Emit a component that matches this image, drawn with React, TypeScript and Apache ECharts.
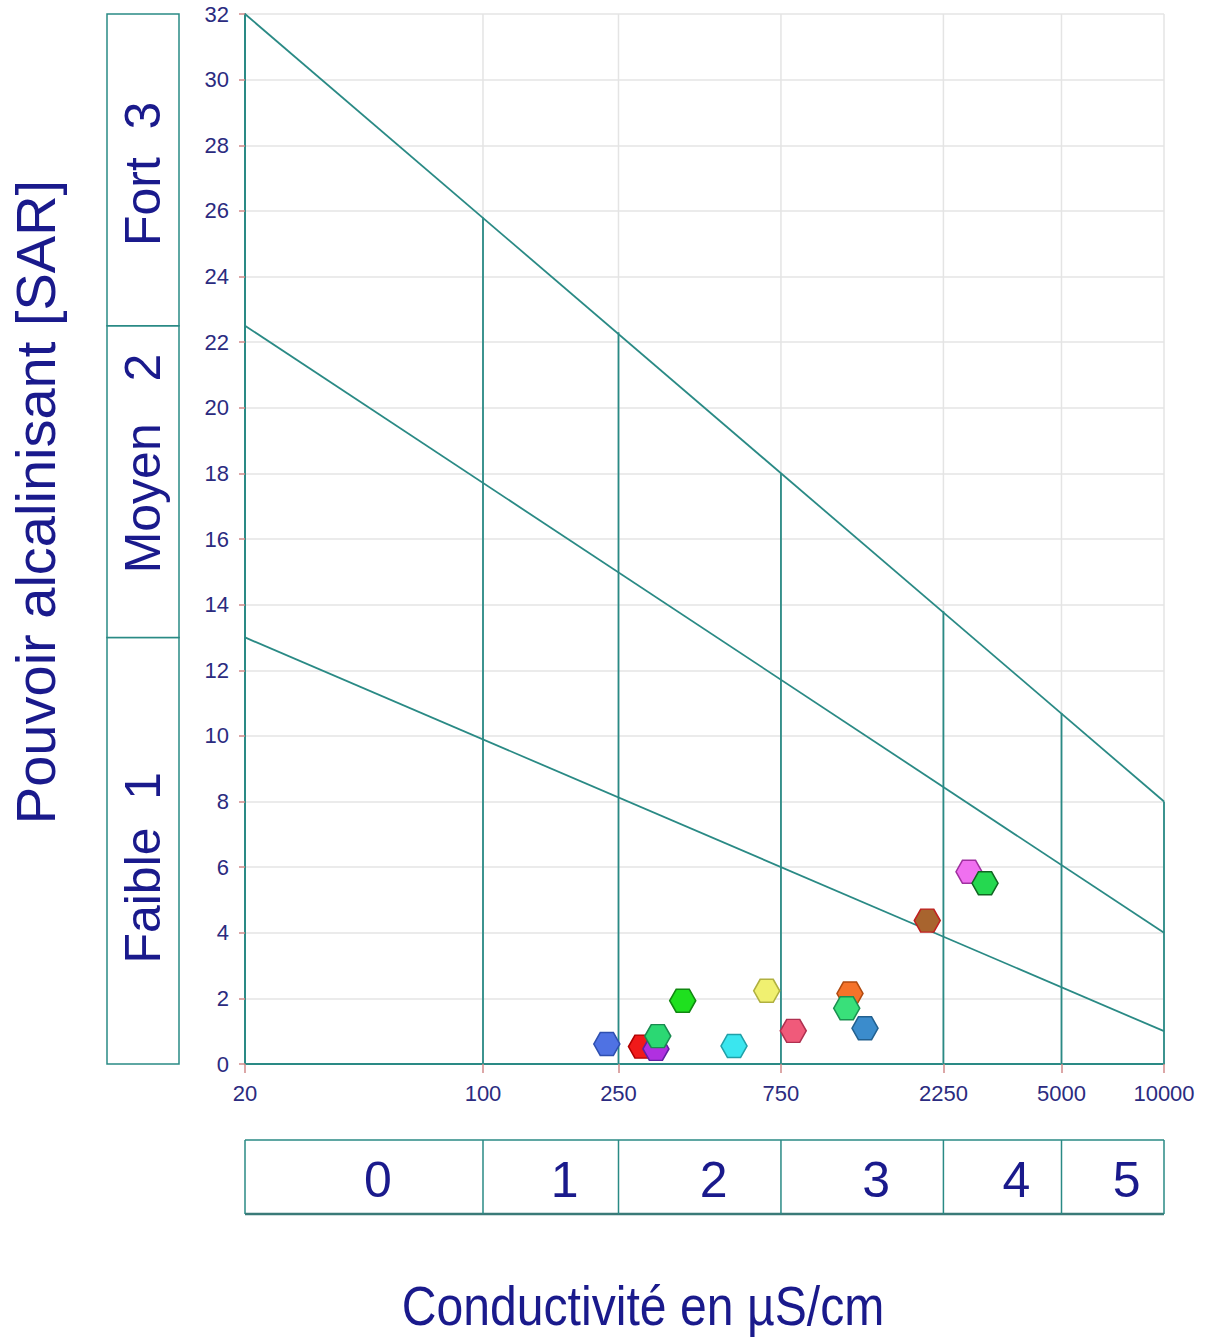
import React, { useEffect, useRef } from "react";
import * as echarts from "echarts";

// ---- data ----
const X_TICKS = [20, 100, 250, 750, 2250, 5000, 10000];
const X_MIN = 20;
const X_MAX = 10000;
const Y_MAX = 32;
const Y_STEP = 2;

// class boundaries on the conductivity axis
const BOUNDARY_X = [100, 250, 750, 2250, 5000];
// SAR reached by the upper diagonal at each boundary (end of the teal verticals)
const BOUNDARY_TOP = [25.8, 22.3, 18.0, 13.8, 10.7];
const RIGHT_EDGE_TOP = 8;

// diagonal class limits [conductivity, SAR]
const LINE_HIGH = [[20, 32], [10000, 8]];
const LINE_MID = [[20, 22.5], [10000, 4]];
const LINE_LOW = [[20, 13], [10000, 1]];

// samples
const SAMPLE_COND = [231, 292, 322, 326, 386, 546, 681, 815, 1196, 1170, 1324, 2017, 2675, 2981];
const SAMPLE_SAR = [0.61, 0.53, 0.46, 0.85, 1.93, 0.55, 2.23, 1.01, 2.15, 1.7, 1.09, 4.37, 5.86, 5.51];
const SAMPLE_FILL = ["#4f72e3", "#f01a1a", "#b030e0", "#2bd873", "#1fe01f", "#3ae6ef", "#f0f070", "#f05a7a", "#f5732a", "#39e07a", "#3b8ccc", "#a8642e", "#f070f0", "#25d850"];
const SAMPLE_EDGE = ["#2e4fb0", "#b00000", "#6020a0", "#1a8a50", "#118811", "#20a0a8", "#b0b040", "#b03050", "#b04a10", "#1a9050", "#22608f", "#c02020", "#a030a0", "#116622"];

// class labels
const SAR_CLASSES = ["Faible  1", "Moyen   2", "Fort  3"];
const SAR_CLASS_LIMITS = [0, 13, 22.5, 32];
const COND_CLASSES = ["0", "1", "2", "3", "4", "5"];

const TEAL = "#2a8a85";
const GRID = "#e4e4e4";
const NAVY = "#1a1a8c";
const TICK = "#d08a8a";

const lg = (v: number) => Math.log10(v);

// layout
const W = 1206;
const H = 1339;
const GL = 245, GT = 14, GR = 1164, GB = 1064;
const SAR_LABEL_SHIFT = [17, -18, 4];

export default function App() {
  const ref = useRef<HTMLDivElement>(null);
  useEffect(() => {
    if (!ref.current) return;
    const chart = echarts.init(ref.current, undefined, { renderer: "svg" });
    const font = "Liberation Sans, Arial, sans-serif";

    const hex = "path://M0,10 L5,0 L15,0 L20,10 L15,20 L5,20 Z";

    const seg = (pts: number[][], color: string, width: number, z = 2) => ({
      type: "line",
      data: pts.map((p) => [lg(p[0]), p[1]]),
      symbol: "none",
      silent: true,
      z,
      lineStyle: { color, width },
    });

    const series: any[] = [];
    // light gray verticals full height
    [...BOUNDARY_X, X_MAX].forEach((x) => series.push(seg([[x, 0], [x, Y_MAX]], GRID, 1.5, 1)));
    // teal verticals below upper diagonal
    BOUNDARY_X.forEach((x, i) => series.push(seg([[x, 0], [x, BOUNDARY_TOP[i]]], TEAL, 1.8, 2)));
    series.push(seg([[X_MAX, 0], [X_MAX, RIGHT_EDGE_TOP]], TEAL, 1.8, 2));
    // diagonals
    [LINE_HIGH, LINE_MID, LINE_LOW].forEach((l) => series.push(seg(l, TEAL, 1.8, 3)));
    // samples
    series.push({
      type: "scatter",
      z: 5,
      symbol: hex,
      symbolSize: [26, 23],
      data: SAMPLE_COND.map((c, i) => ({
        value: [lg(c), SAMPLE_SAR[i]],
        itemStyle: { color: SAMPLE_FILL[i], borderColor: SAMPLE_EDGE[i], borderWidth: 1.5, opacity: 1 },
      })),
    });

    const yPx = (v: number) => GB - (v / Y_MAX) * (GB - GT);
    const xPx = (v: number) => GL + ((lg(v) - lg(X_MIN)) / (lg(X_MAX) - lg(X_MIN))) * (GR - GL);

    const graphics: any[] = [];
    // left SAR class boxes
    SAR_CLASSES.forEach((name, i) => {
      const y1 = yPx(SAR_CLASS_LIMITS[i + 1]);
      const y0 = yPx(SAR_CLASS_LIMITS[i]);
      graphics.push({
        type: "rect",
        shape: { x: 107, y: y1, width: 72, height: y0 - y1 },
        style: { fill: "#fff", stroke: TEAL, lineWidth: 1.5 },
      });
      graphics.push({
        type: "text",
        x: 143,
        y: (y0 + y1) / 2 + SAR_LABEL_SHIFT[i],
        rotation: Math.PI / 2,
        style: {
          text: name,
          fill: NAVY,
          font: `50px ${font}`,
          align: "center",
          verticalAlign: "middle",
        },
      });
    });
    // bottom conductivity class boxes
    const bx = [X_MIN, ...BOUNDARY_X, X_MAX].map(xPx);
    graphics.push({ type: "line", shape: { x1: bx[0], y1: 1140, x2: bx[6], y2: 1140 }, style: { stroke: TEAL, lineWidth: 1.5 } });
    graphics.push({ type: "line", shape: { x1: bx[0], y1: 1214, x2: bx[6], y2: 1214 }, style: { stroke: "#3a7a78", lineWidth: 2.5 } });
    bx.forEach((x) =>
      graphics.push({ type: "line", shape: { x1: x, y1: 1140, x2: x, y2: 1214 }, style: { stroke: TEAL, lineWidth: 1.5 } })
    );
    COND_CLASSES.forEach((c, i) => {
      graphics.push({
        type: "text",
        x: (bx[i] + bx[i + 1]) / 2 + 14,
        y: 1180,
        style: { text: c, fill: NAVY, font: `50px ${font}`, align: "center", verticalAlign: "middle" },
      });
    });
    // axis titles
    graphics.push({
      type: "text",
      x: 35,
      y: 502,
      rotation: Math.PI / 2,
      style: {
        text: "Pouvoir alcalinisant [SAR]",
        fill: NAVY,
        font: `56px ${font}`,
        align: "center",
        verticalAlign: "middle",
      },
    });
    graphics.push({
      type: "text",
      x: 643,
      y: 1306,
      scaleX: 0.86,
      style: {
        text: "Conductivité en µS/cm",
        fill: NAVY,
        font: `56px ${font}`,
        align: "center",
        verticalAlign: "middle",
      },
    });

    chart.setOption({
      animation: false,
      backgroundColor: "#fff",
      grid: { left: GL, top: GT, right: W - GR, bottom: H - GB, containLabel: false },
      xAxis: {
        type: "value",
        min: lg(X_MIN),
        max: lg(X_MAX),
        axisLine: { show: true, lineStyle: { color: TEAL, width: 2 } },
        axisTick: { show: true, customValues: X_TICKS.map(lg), length: 9, lineStyle: { color: TICK, width: 1.5 } },
        axisLabel: {
          show: true,
          customValues: X_TICKS.map(lg),
          formatter: (v: number) => String(Math.round(Math.pow(10, v))),
          color: "#2b2b80",
          fontSize: 22,
          fontFamily: font,
          margin: 18,
        },
        splitLine: { show: false },
      },
      yAxis: {
        type: "value",
        min: 0,
        max: Y_MAX,
        interval: Y_STEP,
        axisLine: { show: true, lineStyle: { color: TEAL, width: 2 } },
        axisTick: { show: true, length: 6, lineStyle: { color: TICK, width: 1.5 } },
        axisLabel: { color: "#2b2b80", fontSize: 22, fontFamily: font, margin: 16 },
        splitLine: { show: true, lineStyle: { color: GRID, width: 1.5 } },
      },
      series,
      graphic: graphics,
    });
    return () => chart.dispose();
  }, []);
  return <div ref={ref} style={{ position: "absolute", left: 0, top: 0, width: W, height: H }} />;
}
